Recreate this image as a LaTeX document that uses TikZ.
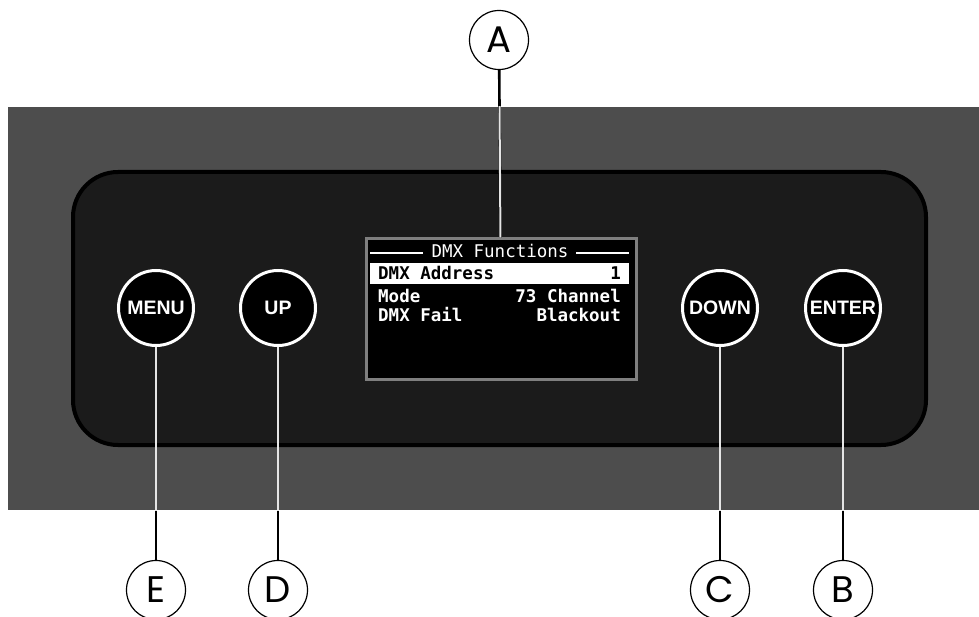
\documentclass[tikz,border=0pt]{standalone}
\usepackage{fontspec}
\setmainfont{Liberation Sans}
\newfontfamily\lcdfont{DejaVu Sans Mono}
\newfontfamily\calloutfont{Poppins}
\usepackage{xcolor}
\usetikzlibrary{positioning}
\definecolor{bandgray}{HTML}{4D4D4D}
\definecolor{panelgray}{HTML}{1B1B1B}
\definecolor{lcdframe}{HTML}{7F7F7F}

\begin{document}
\begin{tikzpicture}[
  x=1pt, y=-1pt,
  btn/.style={circle, draw=white, line width=3pt, fill=black, minimum size=75pt, inner sep=0pt, text=white, font=\bfseries\fontsize{19.5}{19.5}\selectfont},
  callout/.style={circle, draw=black, line width=1.2pt, fill=white, minimum size=59pt, inner sep=0pt, font=\calloutfont\fontsize{37}{37}\selectfont},
  leader/.style={line width=2.6pt, black},
  leaderin/.style={line width=2pt, white!90!black},
  lcd/.style={font=\lcdfont\fontsize{17.5}{17.5}\selectfont, text=white, inner sep=0pt},
  lcdb/.style={font=\lcdfont\bfseries\fontsize{17.5}{17.5}\selectfont, text=white, inner sep=0pt}
]
\clip (0,0) rectangle (979,617);
\fill[white] (0,0) rectangle (979,617);

% housing and control panel
\fill[bandgray] (8,107) rectangle (979,510);
\draw[black, line width=4pt, fill=panelgray, rounded corners=45pt] (73,172) rectangle (926,445);

% display
\node[draw=lcdframe, line width=3pt, fill=black, minimum width=270pt, minimum height=140pt, inner sep=0pt] (disp) at (501,309) {};
\node[lcd, anchor=base] (title) at (500,258) {DMX Functions};
\draw[white, line width=1.3pt] (370,253) -- (423,253);
\draw[white, line width=1.3pt] (576,253) -- (629,253);
\fill[white] (370,263) rectangle (629,284);
\node[lcdb, text=black, anchor=base west] (addr) at (378,280) {DMX Address};
\node[lcdb, text=black, anchor=base east] (addrval) at (621,280) {1};
\node[lcdb, anchor=base west] (mode) at (378,302) {Mode};
\node[lcdb, anchor=base east] (modeval) at (621,302) {73 Channel};
\node[lcdb, anchor=base west] (fail) at (378,322) {DMX Fail};
\node[lcdb, anchor=base east] (failval) at (621,322) {Blackout};

% buttons
\node[btn] (menu) at (156,308) {MENU};
\node[btn] (up) at (278,308) {UP};
\node[btn] (down) at (720,308) {DOWN};
\node[btn] (enter) at (843,308) {ENTER};

% callouts
\node[callout] (A) at (499,40) {A};
\node[callout] (E) at (156,590) {E};
\node[callout] (D) at (278,590) {D};
\node[callout] (C) at (720,590) {C};
\node[callout] (B) at (843,590) {B};

\draw[leader] (A) -- (disp);
\draw[leader] (E) -- (menu);
\draw[leader] (D) -- (up);
\draw[leader] (C) -- (down);
\draw[leader] (B) -- (enter);

% leaders turn light over the housing
\begin{scope}
  \clip (8,107) rectangle (979,510);
  \draw[leaderin] (A) -- (disp);
  \draw[leaderin] (E) -- (menu);
  \draw[leaderin] (D) -- (up);
  \draw[leaderin] (C) -- (down);
  \draw[leaderin] (B) -- (enter);
\end{scope}
\end{tikzpicture}
\end{document}
